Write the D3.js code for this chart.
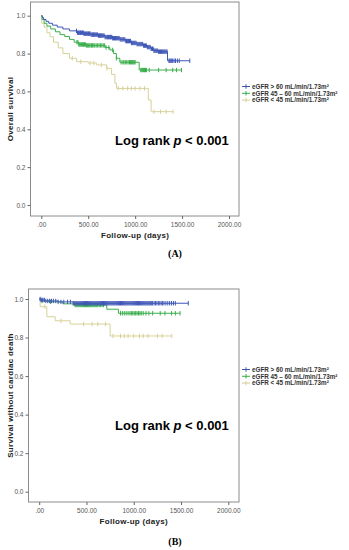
<!DOCTYPE html>
<html>
<head>
<meta charset="utf-8">
<script src="https://cdn.jsdelivr.net/npm/d3@7"></script>
<style>
  body { margin: 0; background: #fff; }
  svg { display: block; font-family: "Liberation Sans", Arial, sans-serif; }
</style>
</head>
<body>
<svg width="349" height="550"></svg>
<script>
// groups
var groups = ['eGFR > 60 mL/min/1.73m²', 'eGFR  45 – 60 mL/min/1.73m²', 'eGFR < 45 mL/min/1.73m²'];
var colors = ['#3f56b6', '#3aae4c', '#d6d19a'];

var xTicks = [0, 500, 1000, 1500, 2000];
var yTicks = [0, 0.2, 0.4, 0.6, 0.8, 1.0];

// panel A: overall survival, [days, survival]
var blueA = [[0,1.0],[10,0.99],[25,0.98],[50,0.97],[80,0.96],[120,0.95],[170,0.94],[230,0.93],[300,0.92],[380,0.91],[450,0.905],[530,0.90],[610,0.895],[680,0.887],[760,0.881],[840,0.875],[900,0.866],[960,0.856],[1020,0.85],[1090,0.842],[1130,0.834],[1170,0.825],[1200,0.815],[1250,0.81],[1345,0.762],[1582,0.762]];
var greenA = [[0,1.0],[8,0.98],[30,0.96],[60,0.945],[100,0.93],[150,0.915],[200,0.9],[250,0.89],[300,0.875],[350,0.86],[400,0.848],[480,0.843],[680,0.832],[730,0.819],[770,0.80],[800,0.775],[837,0.754],[1043,0.713],[1494,0.713]];
var yellowA = [[0,1.0],[5,0.96],[30,0.94],[60,0.91],[93,0.889],[130,0.86],[181,0.83],[230,0.80],[300,0.775],[376,0.757],[500,0.75],[589,0.74],[696,0.722],[749,0.69],[784,0.643],[802,0.616],[1121,0.616],[1140,0.555],[1170,0.493],[1404,0.493]];

var blueCensA = [375,385,395,402,410,418,425,433,440,448,455,463,470,480,490,498,505,512,520,530,540,548,555,562,570,580,590,600,610,618,625,632,640,650,660,670,680,690,700,708,715,722,730,738,745,752,760,770,780,790,800,810,820,830,840,850,860,870,880,890,900,908,915,922,930,940,950,960,970,980,990,1000,1010,1020,1030,1040,1050,1060,1070,1080,1090,1100,1110,1120,1130,1140,1150,1160,1170,1178,1185,1192,1200,1210,1220,1230,1240,1250,1260,1270,1280,1290,1300,1310,1320,1330,1340,1360,1370,1380,1390,1400,1415,1430,1450,1470,1582];
var greenCensA = [380,390,400,410,420,430,440,450,460,470,480,490,500,510,520,535,545,560,570,585,600,615,630,645,660,675,690,720,760,800,850,870,880,895,910,925,940,950,960,970,980,990,1000,1060,1070,1080,1090,1100,1110,1120,1150,1250,1330,1400,1440,1494];
var yellowCensA = [330,420,520,560,640,700,820,870,920,960,1000,1050,1100,1200,1270,1330,1404];

// panel B: survival without cardiac death
var blueB = [[0,1.0],[15,0.995],[60,0.99],[200,0.985],[360,0.978],[1577,0.978]];
var greenB = [[0,1.0],[20,0.99],[100,0.985],[250,0.975],[360,0.969],[715,0.947],[838,0.926],[1490,0.926]];
var yellowB = [[0,1.0],[10,0.96],[81,0.908],[169,0.887],[328,0.87],[750,0.808],[1402,0.808]];

var blueCensB = [10,20,30,40,55,70,90,110,130,150,175,200,230,260,300,330,360,370,380,390,400,410,420,430,440,450,460,470,480,490,500,510,520,530,540,550,560,570,580,590,600,610,620,630,640,650,660,670,680,690,700,710,720,730,740,750,760,770,780,790,800,810,820,830,840,850,860,870,880,890,900,910,920,930,940,950,960,970,980,990,1000,1010,1020,1030,1040,1050,1060,1070,1080,1090,1100,1110,1120,1130,1140,1150,1160,1170,1180,1190,1200,1215,1230,1245,1260,1275,1290,1305,1320,1340,1360,1380,1400,1420,1440,1577];
var greenCensB = [30,120,380,390,400,410,420,430,440,450,460,470,480,490,500,510,520,530,540,550,560,570,580,590,600,610,620,635,650,665,680,860,880,900,920,940,960,975,990,1005,1020,1035,1050,1065,1080,1100,1130,1160,1200,1280,1330,1400,1440,1490];
var yellowCensB = [60,230,470,560,620,700,780,860,900,940,1000,1060,1100,1150,1250,1300,1402];

var svg = d3.select('svg');

function survAt(steps, t) {
  var v = steps[0][1];
  steps.forEach(function(s) { if (s[0] <= t) v = s[1]; });
  return v;
}

function drawPanel(p) {
  var g = svg.append('g');
  var x = d3.scaleLinear().domain([0, 2000]).range([p.x0, p.x1]);
  var y = d3.scaleLinear().domain([0, 1]).range([p.y0, p.y1]);

  // frame
  g.append('rect')
    .attr('x', p.left).attr('y', p.top)
    .attr('width', p.right - p.left).attr('height', p.bottom - p.top)
    .attr('fill', 'none').attr('stroke', '#8c8c8c').attr('stroke-width', 1);

  // y axis
  var ya = g.append('g').attr('transform', 'translate(' + p.left + ',0)')
    .call(d3.axisLeft(y).tickValues(yTicks).tickSize(3).tickFormat(d3.format('.1f')));
  ya.select('.domain').remove();
  ya.selectAll('line').attr('stroke', '#666');
  ya.selectAll('text').attr('font-size', 6.5).attr('fill', '#555').attr('dx', 1);

  // x axis
  var xa = g.append('g').attr('transform', 'translate(0,' + p.bottom + ')')
    .call(d3.axisBottom(x).tickValues(xTicks).tickSize(3).tickPadding(3)
      .tickFormat(function(d) { return d === 0 ? '.00' : d.toFixed(2); }));
  xa.select('.domain').remove();
  xa.selectAll('line').attr('stroke', '#666');
  xa.selectAll('text').attr('font-size', 6.5).attr('fill', '#555');

  var line = d3.line()
    .x(function(d) { return x(d[0]); })
    .y(function(d) { return y(d[1]); })
    .curve(d3.curveStepAfter);

  // draw worst group first so blue sits on top
  [2, 1, 0].forEach(function(i) {
    g.append('path').datum(p.steps[i])
      .attr('d', line)
      .attr('fill', 'none').attr('stroke', colors[i]).attr('stroke-width', 1);
    g.selectAll(null).data(p.cens[i]).enter().append('line')
      .attr('x1', function(d) { return x(d); })
      .attr('x2', function(d) { return x(d); })
      .attr('y1', function(d) { return y(survAt(p.steps[i], d)) - 2.2; })
      .attr('y2', function(d) { return y(survAt(p.steps[i], d)) + 2.2; })
      .attr('stroke', colors[i]).attr('stroke-width', 1);
  });

  // axis titles
  g.append('text')
    .attr('x', (p.x0 + p.x1) / 2).attr('y', p.xTitleY)
    .attr('text-anchor', 'middle').attr('font-size', 8).attr('font-weight', 'bold')
    .attr('fill', '#222').attr('letter-spacing', 0.3)
    .text('Follow-up (days)');
  g.append('text')
    .attr('transform', 'translate(13,' + ((p.top + p.bottom) / 2) + ') rotate(-90)')
    .attr('text-anchor', 'middle').attr('font-size', 8).attr('font-weight', 'bold')
    .attr('fill', '#222').attr('letter-spacing', 0.3)
    .text(p.yTitle);

  // log rank
  var lr = g.append('text')
    .attr('x', 115).attr('y', p.logY)
    .attr('font-size', 13).attr('font-weight', 'bold').attr('fill', '#000');
  lr.append('tspan').text('Log rank ');
  lr.append('tspan').attr('font-style', 'italic').text('p');
  lr.append('tspan').text(' < 0.001');

  // legend
  groups.forEach(function(name, i) {
    var ly = p.legY + i * 6.8;
    g.append('line').attr('x1', 242).attr('x2', 250).attr('y1', ly).attr('y2', ly)
      .attr('stroke', colors[i]).attr('stroke-width', 1);
    g.append('line').attr('x1', 246).attr('x2', 246).attr('y1', ly - 2.2).attr('y2', ly + 2.2)
      .attr('stroke', colors[i]).attr('stroke-width', 1);
    g.append('text').attr('x', 252).attr('y', ly + 2.3)
      .attr('font-size', 6.3).attr('font-weight', 'bold').attr('fill', '#333')
      .text(name);
  });

  // panel label
  svg.append('text')
    .attr('x', 175).attr('y', p.labelY)
    .attr('text-anchor', 'middle')
    .attr('font-family', '"Liberation Serif", "Times New Roman", serif')
    .attr('font-size', 10).attr('font-weight', 'bold').attr('fill', '#000')
    .text(p.label);
}

drawPanel({
  left: 30.5, right: 239, top: 2, bottom: 216,
  x0: 41.3, x1: 229, y0: 205, y1: 15.7,
  steps: [blueA, greenA, yellowA], cens: [blueCensA, greenCensA, yellowCensA],
  yTitle: 'Overall survival', xTitleY: 238, logY: 145, legY: 86.5,
  labelY: 257, label: '(A)'
});

drawPanel({
  left: 28.5, right: 239, top: 289, bottom: 502,
  x0: 39.2, x1: 228.3, y0: 491.7, y1: 299,
  steps: [blueB, greenB, yellowB], cens: [blueCensB, greenCensB, yellowCensB],
  yTitle: 'Survival without cardiac death', xTitleY: 524, logY: 430, legY: 369.5,
  labelY: 545, label: '(B)'
});
</script>
</body>
</html>
